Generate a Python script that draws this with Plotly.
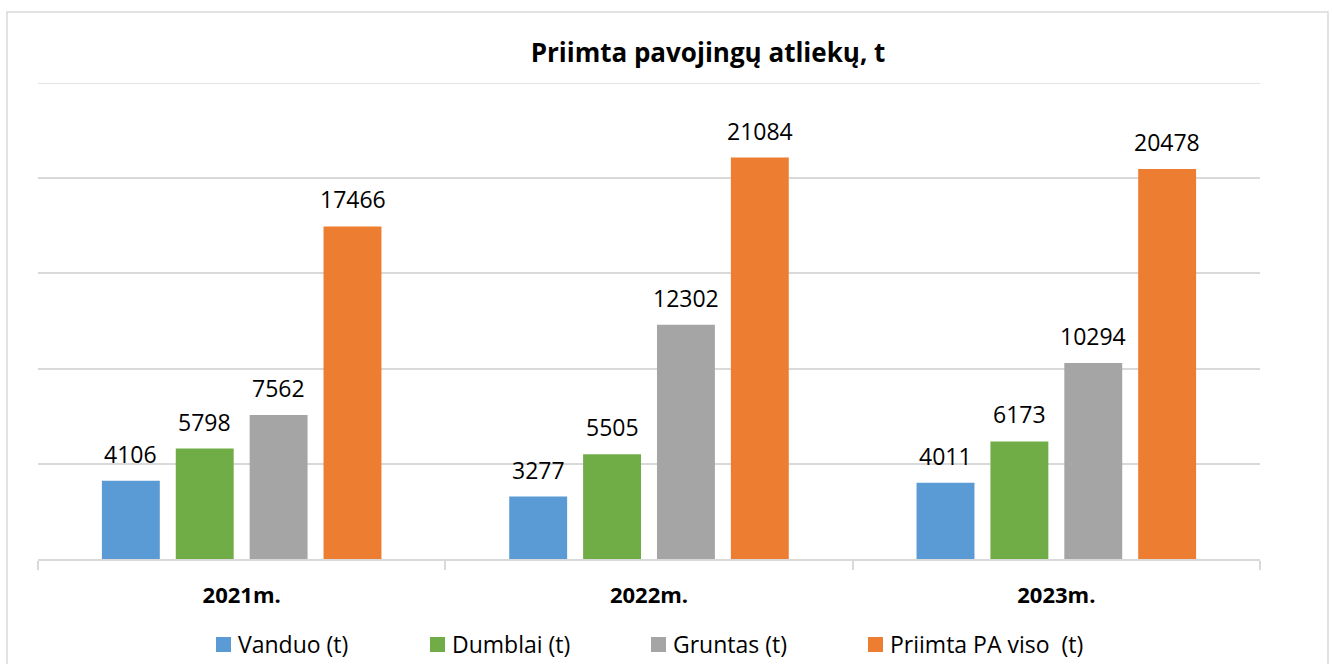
import plotly.graph_objects as go

categories = ["2021m.", "2022m.", "2023m."]
vanduo = [4106, 3277, 4011]
dumblai = [5798, 5505, 6173]
gruntas = [7562, 12302, 10294]
viso = [17466, 21084, 20478]

series_names = ["Vanduo (t)", "Dumblai (t)", "Gruntas (t)", "Priimta PA viso  (t)"]
series_values = [vanduo, dumblai, gruntas, viso]
series_colors = ["#5B9BD5", "#70AD47", "#A5A5A5", "#ED7D31"]

Y_MAX = 25000
Y_STEP = 5000

FONT = "Open Sans"
W, H = 1333, 664
L, R, T, B = 38, 73, 83, 105
pw, ph = W - L - R, H - T - B


def px_x(p):
    return (p - L) / pw


def px_y(p):
    return (H - B - p) / ph


fig = go.Figure()
shifts = [-111, -37, 37, 111]
annotations = []
shapes = [dict(type="rect", xref="paper", yref="paper",
               x0=px_x(7), x1=px_x(1328), y0=px_y(700), y1=px_y(12),
               line=dict(color="#d9d9d9", width=1.5), fillcolor="rgba(0,0,0,0)",
               layer="below"),
          dict(type="line", xref="paper", yref="y", x0=0, x1=1, y0=Y_MAX, y1=Y_MAX,
               line=dict(color="#d9d9d9", width=1.5), layer="below")]
legend_x = [216, 430, 651, 868]
for name, vals, color, sh, lx in zip(series_names, series_values, series_colors, shifts, legend_x):
    fig.add_trace(go.Bar(x=categories, y=vals, name=name, marker_color=color,
                         marker_line_width=0, showlegend=False))
    for c, v in zip(categories, vals):
        annotations.append(dict(x=c, y=v, xref="x", yref="y", text=str(v),
                                showarrow=False, xshift=sh, yshift=27,
                                yanchor="middle", xanchor="center",
                                font=dict(family=FONT, size=23, color="#000000")))
    # legend entry
    shapes.append(dict(type="rect", xref="paper", yref="paper",
                       x0=px_x(lx), x1=px_x(lx + 15), y0=px_y(652), y1=px_y(637),
                       fillcolor=color, line=dict(width=0)))
    annotations.append(dict(x=px_x(lx + 20), y=px_y(643.5), xref="paper", yref="paper",
                            text=name.replace("  ", "&nbsp; "), showarrow=False,
                            xanchor="left", yanchor="middle",
                            font=dict(family=FONT, size=23, color="#000000")))

fig.update_layout(
    width=W, height=H,
    margin=dict(l=L, r=R, t=T, b=B),
    paper_bgcolor="white", plot_bgcolor="white",
    barmode="group", bargap=0.2745, bargroupgap=0.216,
    showlegend=False,
    title=dict(text="<b>Priimta pavojingų atliekų, t</b>", x=708 / W, xanchor="center",
               xref="container", y=1 - 53 / H, yanchor="middle", yref="container",
               font=dict(family=FONT, size=26, color="#000000")),
    xaxis=dict(showline=True, linecolor="#d9d9d9", linewidth=1.5, ticks="outside",
               tickson="boundaries", ticklen=9, tickcolor="#d9d9d9", tickwidth=1.5,
               ticklabelstandoff=16,
               tickfont=dict(family=FONT, size=22, color="#000000", weight="bold"),
               showgrid=False),
    yaxis=dict(range=[0, Y_MAX], dtick=Y_STEP, showticklabels=False, showgrid=True,
               gridcolor="#d9d9d9", gridwidth=1.5, zeroline=False, showline=False),
    annotations=annotations,
    shapes=shapes,
)

fig.write_html("out.html", config={"displayModeBar": False},
               post_script="document.body.style.margin='0';")
